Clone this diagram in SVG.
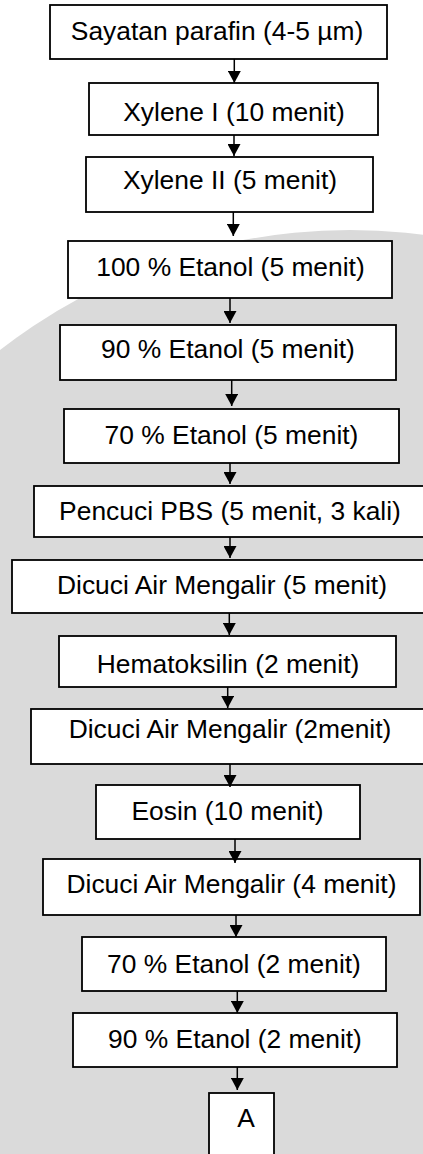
<svg xmlns="http://www.w3.org/2000/svg" width="423" height="1154" viewBox="0 0 423 1154">
  <style>
    .box { fill: #ffffff; stroke: #000000; stroke-width: 1.8; }
    .lbl { font-family: "Liberation Sans", Arial, sans-serif; font-size: 26.4px; fill: #000000; text-anchor: middle; }
    .flow { stroke: #000000; stroke-width: 1.5; fill: none; marker-end: url(#head); }
  </style>
  <defs>
    <marker id="head" viewBox="0 0 12 13" refX="12" refY="6.5" markerWidth="12" markerHeight="13" markerUnits="userSpaceOnUse" orient="auto">
      <path d="M0,0 L12,6.5 L0,13 z" fill="#000000"/>
    </marker>
  </defs>

  <!-- page background with the large pale seal behind the chart -->
  <rect x="0" y="0" width="423" height="1154" fill="#ffffff"/>
  <circle cx="350" cy="800" r="570" fill="#dadada"/>

  <g id="n1"><rect class="box" x="50" y="5" width="337" height="54"/><text class="lbl" x="217" y="40">Sayatan parafin (4-5 µm)</text></g>
  <g id="n2"><rect class="box" x="89" y="83" width="289" height="52"/><text class="lbl" x="234" y="121">Xylene I (10 menit)</text></g>
  <g id="n3"><rect class="box" x="86" y="157" width="287" height="55"/><text class="lbl" x="230" y="189">Xylene II (5 menit)</text></g>
  <g id="n4"><rect class="box" x="68" y="241" width="324" height="57"/><text class="lbl" x="230.5" y="276">100 % Etanol (5 menit)</text></g>
  <g id="n5"><rect class="box" x="60" y="325" width="336" height="55"/><text class="lbl" x="228" y="358">90 % Etanol (5 menit)</text></g>
  <g id="n6"><rect class="box" x="64" y="409" width="335" height="54"/><text class="lbl" x="231.5" y="444">70 % Etanol (5 menit)</text></g>
  <g id="n7"><rect class="box" x="34" y="486" width="400" height="51"/><text class="lbl" x="230" y="520">Pencuci PBS (5 menit, 3 kali)</text></g>
  <g id="n8"><rect class="box" x="12" y="560" width="420" height="53"/><text class="lbl" x="222" y="594">Dicuci Air Mengalir (5 menit)</text></g>
  <g id="n9"><rect class="box" x="59" y="636" width="337" height="51"/><text class="lbl" x="228" y="673">Hematoksilin (2 menit)</text></g>
  <g id="n10"><rect class="box" x="31" y="709" width="400" height="55"/><text class="lbl" x="230" y="738">Dicuci Air Mengalir (2menit)</text></g>
  <g id="n11"><rect class="box" x="96" y="785" width="264" height="54"/><text class="lbl" x="227.5" y="820">Eosin (10 menit)</text></g>
  <g id="n12"><rect class="box" x="43" y="859" width="377" height="56"/><text class="lbl" x="231.5" y="893">Dicuci Air Mengalir (4 menit)</text></g>
  <g id="n13"><rect class="box" x="82" y="937" width="304" height="54"/><text class="lbl" x="234" y="973">70 % Etanol (2 menit)</text></g>
  <g id="n14"><rect class="box" x="73" y="1013" width="324" height="54"/><text class="lbl" x="235" y="1048">90 % Etanol (2 menit)</text></g>
  <g id="n15"><rect class="box" x="209" y="1093" width="65" height="80"/><text class="lbl" x="246" y="1127">A</text></g>

  <g id="connectors">
    <line class="flow" x1="234.3" y1="59" x2="234.3" y2="83"/>
    <line class="flow" x1="234" y1="135" x2="234" y2="156"/>
    <line class="flow" x1="233.3" y1="212" x2="233.3" y2="236"/>
    <line class="flow" x1="230" y1="298" x2="230" y2="323"/>
    <line class="flow" x1="231.7" y1="380" x2="231.7" y2="406"/>
    <line class="flow" x1="230" y1="463" x2="230" y2="484"/>
    <line class="flow" x1="230" y1="537" x2="230" y2="558"/>
    <line class="flow" x1="229.3" y1="613" x2="229.3" y2="635"/>
    <line class="flow" x1="227.7" y1="687" x2="227.7" y2="708"/>
    <line class="flow" x1="230" y1="764" x2="230" y2="787"/>
    <line class="flow" x1="235" y1="839" x2="235" y2="863"/>
    <line class="flow" x1="236" y1="915" x2="236" y2="937"/>
    <line class="flow" x1="237.3" y1="991" x2="237.3" y2="1013"/>
    <line class="flow" x1="237.3" y1="1067" x2="237.3" y2="1090"/>
  </g>
</svg>
